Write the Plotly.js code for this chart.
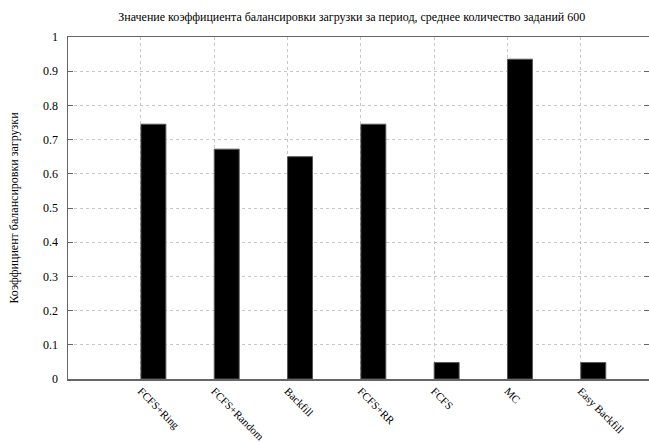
<!DOCTYPE html>
<html>
<head>
<meta charset="utf-8">
<script src="https://cdn.plot.ly/plotly-3.0.1.min.js"></script>
<style>html,body{margin:0;padding:0;background:#fff;}#chart{width:649px;height:442px;}</style>
</head>
<body>
<div id="chart"></div>
<script>
const categories = ["FCFS+Ring", "FCFS+Random", "Backfill", "FCFS+RR", "FCFS", "MC", "Easy Backfill"];
const positions = [0, 1, 2, 3, 4, 5, 6];
const values = [0.745, 0.672, 0.650, 0.745, 0.048, 0.935, 0.048];
const yTicks = [0, 0.1, 0.2, 0.3, 0.4, 0.5, 0.6, 0.7, 0.8, 0.9, 1];
const yTickText = ["0", "0.1", "0.2", "0.3", "0.4", "0.5", "0.6", "0.7", "0.8", "0.9", "1"];
const titleText = "Значение коэффициента балансировки загрузки за период, среднее количество заданий 600";
const yTitleText = "Коэффициент балансировки загрузки";

const font = "Times New Roman";

const trace = {
  type: "bar",
  x: positions,
  y: values,
  offset: 0,
  width: 0.34,
  marker: {color: "#000", line: {color: "#555", width: 1}},
  hoverinfo: "skip"
};

const layout = {
  width: 649,
  height: 442,
  margin: {l: 68, r: 0, t: 37, b: 63},
  paper_bgcolor: "#fff",
  plot_bgcolor: "#fff",
  showlegend: false,
  font: {family: font, size: 12, color: "#000"},
  title: {
    text: titleText,
    font: {family: font, size: 12, color: "#000"},
    x: 0.542, xanchor: "center",
    y: 0.962, yanchor: "middle"
  },
  xaxis: {
    range: [-0.995, 6.93],
    tickvals: positions,
    ticktext: categories,
    tickangle: 45,
    ticks: "",
    showgrid: true,
    gridcolor: "#c8c8c8",
    griddash: "dot",
    gridwidth: 1,
    showline: true,
    linecolor: "#666",
    linewidth: 1.5,
    mirror: true,
    zeroline: false,
    tickfont: {family: font, size: 11, color: "#000"},
    ticklabelstandoff: 0,
    fixedrange: true
  },
  yaxis: {
    range: [0, 1],
    tickvals: yTicks,
    ticktext: yTickText,
    ticks: "inside",
    ticklen: 5,
    tickcolor: "#666",
    showgrid: true,
    gridcolor: "#c8c8c8",
    griddash: "dot",
    gridwidth: 1,
    showline: true,
    linecolor: "#666",
    linewidth: 1.5,
    mirror: "allticks",
    zeroline: false,
    tickfont: {family: font, size: 12, color: "#000"},
    ticklabelstandoff: 6,
    title: {
      text: yTitleText,
      font: {family: font, size: 12, color: "#000"},
      standoff: 22
    },
    fixedrange: true
  }
};

Plotly.newPlot("chart", [trace], layout, {displayModeBar: false, staticPlot: true});
</script>
</body>
</html>
